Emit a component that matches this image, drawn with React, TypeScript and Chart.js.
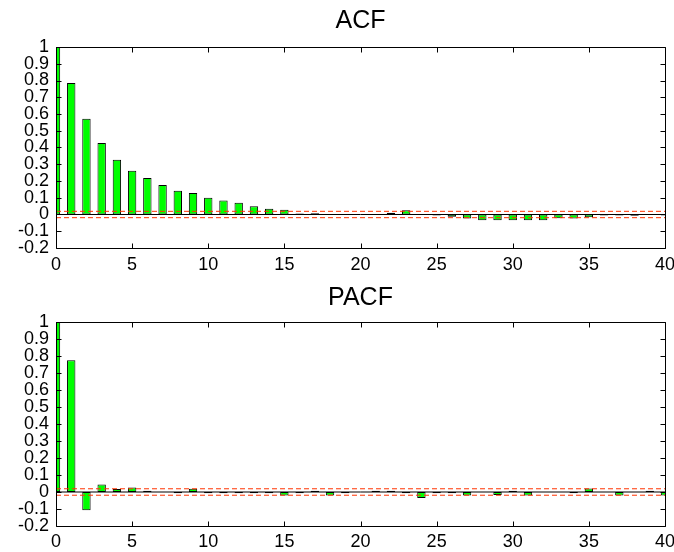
import { useEffect, useRef } from 'react';
import { Chart, registerables } from 'chart.js';

Chart.register(...registerables);
Chart.defaults.font.family = '"Liberation Sans", Arial, Helvetica, sans-serif';
Chart.defaults.color = '#000';

// Lags 0..40
const lags = [
  0, 1, 2, 3, 4, 5, 6, 7, 8, 9, 10, 11, 12, 13, 14, 15, 16, 17, 18, 19, 20,
  21, 22, 23, 24, 25, 26, 27, 28, 29, 30, 31, 32, 33, 34, 35, 36, 37, 38, 39, 40,
];

// Sample autocorrelation
const acfValues = [
  1, 0.785, 0.572, 0.427, 0.327, 0.261, 0.218, 0.176, 0.142, 0.128, 0.1,
  0.084, 0.07, 0.05, 0.034, 0.028, 0.006, 0.007, 0, 0, 0,
  0, 0.01, 0.025, 0, -0.006, -0.014, -0.024, -0.034, -0.034, -0.034,
  -0.034, -0.034, -0.022, -0.024, -0.016, -0.006, -0.006, -0.008, 0, -0.006,
];

// Sample partial autocorrelation
const pacfValues = [
  1, 0.775, -0.108, 0.044, 0.018, 0.027, 0.007, 0, -0.008, 0.019, -0.008,
  -0.008, -0.008, -0.008, -0.008, -0.02, -0.008, 0.008, -0.02, -0.008, 0,
  0.008, 0.008, -0.008, -0.035, -0.008, -0.008, -0.02, 0, -0.018, 0.008,
  -0.02, 0, 0, -0.008, 0.02, 0, -0.02, 0, 0.008, -0.02,
];

// Approximate 95% confidence bound
const confBound = 0.019;

const xTickValues = [0, 5, 10, 15, 20, 25, 30, 35, 40];
const yTickValues = [-0.2, -0.1, 0, 0.1, 0.2, 0.3, 0.4, 0.5, 0.6, 0.7, 0.8, 0.9, 1];

const GREEN = '#00ff00';
const RED = '#ff3300';
const W = 674;
const H = 276;

// Box around the plot area with inward tick marks on all four sides
const framePlugin = {
  id: 'frame',
  afterDatasetsDraw(chart: any) {
    const { ctx, chartArea: a, scales } = chart;
    const xs = scales.x;
    const ys = scales.y;
    const L = Math.round(a.left) + 0.5;
    const R = Math.round(a.right) + 0.5;
    const T = Math.round(a.top) + 0.5;
    const B = Math.round(a.bottom) + 0.5;
    const len = 5;
    ctx.save();
    ctx.strokeStyle = '#000';
    ctx.lineWidth = 1;
    ctx.beginPath();
    ctx.rect(L, T, R - L, B - T);
    for (const v of xTickValues) {
      const px = Math.round(xs.getPixelForValue(v)) + 0.5;
      ctx.moveTo(px, B);
      ctx.lineTo(px, B - len);
      ctx.moveTo(px, T);
      ctx.lineTo(px, T + len);
    }
    for (const v of yTickValues) {
      const py = Math.round(ys.getPixelForValue(v)) + 0.5;
      ctx.moveTo(L, py);
      ctx.lineTo(L + len, py);
      ctx.moveTo(R, py);
      ctx.lineTo(R - len, py);
    }
    ctx.stroke();
    ctx.restore();
  },
};

type PanelProps = {
  title: string;
  values: number[];
  top: number;
  axisHeight: number;
  titlePadTop: number;
  titlePadBottom: number;
  xLabelPad: number;
};

function Panel({ title, values, top, axisHeight, titlePadTop, titlePadBottom, xLabelPad }: PanelProps) {
  const ref = useRef<HTMLCanvasElement | null>(null);

  useEffect(() => {
    if (!ref.current) return;
    const hline = (y: number, color: string, dash: number[]) => ({
      type: 'line' as const,
      data: [
        { x: lags[0], y },
        { x: lags[lags.length - 1], y },
      ],
      borderColor: color,
      borderWidth: 1,
      borderDash: dash,
      pointRadius: 0,
      fill: false,
      clip: 0,
      order: 1,
    });

    const chart = new Chart(ref.current, {
      type: 'bar',
      data: {
        datasets: [
          hline(confBound, RED, [5, 3]),
          hline(-confBound, RED, [5, 3]),
          hline(0, '#000', []),
          {
            type: 'bar',
            data: lags.map((l, i) => ({ x: l, y: values[i] })),
            backgroundColor: GREEN,
            borderColor: '#000',
            borderWidth: 1,
            borderSkipped: false,
            barPercentage: 0.55,
            categoryPercentage: 1,
            clip: 0,
            order: 2,
          } as any,
        ],
      },
      options: {
        responsive: false,
        animation: false,
        events: [],
        layout: { padding: { left: 0, right: 9, top: 0, bottom: 0 } },
        plugins: {
          legend: { display: false },
          tooltip: { enabled: false },
          title: {
            display: true,
            text: title,
            fullSize: false,
            color: '#000',
            font: { size: 25, weight: 'normal' },
            padding: { top: titlePadTop, bottom: titlePadBottom },
          },
        },
        scales: {
          x: {
            type: 'linear',
            min: 0,
            max: 40,
            offset: false,
            grid: { display: false, drawTicks: false, offset: false },
            border: { display: false },
            ticks: {
              autoSkip: false,
              maxRotation: 0,
              padding: xLabelPad,
              font: { size: 18 },
              color: '#000',
              callback: (v: any) => String(v),
            },
            afterBuildTicks: (s: any) => {
              s.ticks = xTickValues.map((v) => ({ value: v }));
            },
            afterFit: (s: any) => {
              s.height = axisHeight;
              s.paddingLeft = 0;
              s.paddingRight = 0;
            },
          },
          y: {
            type: 'linear',
            min: -0.2,
            max: 1,
            grid: { display: false, drawTicks: false },
            border: { display: false },
            ticks: {
              autoSkip: false,
              padding: 7,
              font: { size: 18 },
              color: '#000',
              callback: (v: any) => String(Math.round(Number(v) * 10) / 10),
            },
            afterBuildTicks: (s: any) => {
              s.ticks = yTickValues.map((v) => ({ value: v }));
            },
            afterFit: (s: any) => {
              s.width = 56;
              s.paddingTop = 0;
              s.paddingBottom = 0;
            },
          },
        },
      } as any,
      plugins: [framePlugin],
    });
    return () => chart.destroy();
  }, [title, values, axisHeight, titlePadTop, titlePadBottom, xLabelPad]);

  return (
    <div style={{ position: 'absolute', left: 0, top, width: W, height: H }}>
      <canvas ref={ref} width={W} height={H} style={{ display: 'block', width: W, height: H }} />
    </div>
  );
}

export default function App() {
  return (
    <div style={{ position: 'absolute', left: 0, top: 0, width: W, height: 552, background: '#fff' }}>
      <Panel title="ACF" values={acfValues} top={0} axisHeight={28} titlePadTop={6} titlePadBottom={11} xLabelPad={6} />
      <Panel title="PACF" values={pacfValues} top={276} axisHeight={26} titlePadTop={7} titlePadBottom={9} xLabelPad={5} />
    </div>
  );
}
